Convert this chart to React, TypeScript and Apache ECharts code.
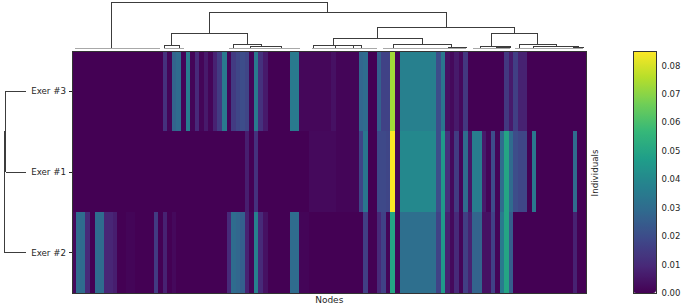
import React, { useEffect, useRef } from "react";
import * as echarts from "echarts";

const individuals = ["Exer #3", "Exer #1", "Exer #2"];

const exer3 = [
  0, 0, 0, 0, 0, 0, 0, 0, 0, 0,
  0, 0, 0, 0, 0, 0, 0, 0, 0, 0,
  0.012, 0.001, 0.027, 0.03, 0.001, 0.036, 0.001, 0.01, 0.001, 0.006,
  0.001, 0.008, 0.015, 0.035, 0.001, 0.015, 0.018, 0.02, 0.018, 0.001,
  0.035, 0.012, 0.006, 0, 0, 0, 0, 0, 0.035, 0.035,
  0.0015, 0.0015, 0.0015, 0.0015, 0.0015, 0.0015, 0.0015, 0.004, 0.001, 0.001,
  0.001, 0.001, 0.001, 0.028, 0.03, 0, 0, 0.026, 0.017, 0.017,
  0.073, 0.001, 0.037, 0.037, 0.037, 0.037, 0.037, 0.037, 0.037, 0.037,
  0.02, 0.034, 0.004, 0.002, 0.006, 0.002, 0.014, 0, 0, 0,
  0, 0, 0, 0, 0, 0.014, 0.006, 0.016, 0.008, 0.008,
  0, 0, 0, 0, 0, 0, 0, 0, 0, 0,
  0, 0, 0,
];

const exer1 = [
  0, 0, 0, 0, 0, 0, 0, 0, 0, 0,
  0, 0, 0, 0, 0, 0, 0, 0, 0, 0,
  0, 0, 0, 0, 0, 0, 0, 0, 0, 0,
  0, 0, 0, 0, 0, 0, 0, 0, 0.007, 0,
  0.012, 0, 0, 0, 0, 0, 0, 0, 0, 0,
  0, 0, 0.002, 0.002, 0.002, 0.002, 0.002, 0.002, 0.001, 0.001,
  0.001, 0.001, 0.001, 0.018, 0.034, 0, 0, 0.019, 0.019, 0.018,
  0.085, 0.001, 0.04, 0.04, 0.04, 0.04, 0.04, 0.04, 0.04, 0.04,
  0.02, 0.046, 0.012, 0.002, 0.015, 0.001, 0.03, 0.005, 0.036, 0.036,
  0.006, 0.001, 0.02, 0.001, 0.03, 0.05, 0.03, 0.02, 0.018, 0.018,
  0, 0.034, 0, 0, 0, 0, 0, 0, 0, 0,
  0.03, 0, 0,
];

const exer2 = [
  0.002, 0.03, 0.03, 0.01, 0, 0.03, 0.03, 0.009, 0.009, 0.007,
  0, 0, 0.001, 0.001, 0, 0, 0, 0, 0.015, 0,
  0.008, 0, 0.002, 0, 0, 0, 0, 0, 0, 0,
  0, 0, 0, 0, 0.01, 0.03, 0.028, 0.026, 0.008, 0.001,
  0.037, 0.01, 0.004, 0, 0, 0, 0, 0, 0.03, 0.03,
  0.001, 0.001, 0, 0, 0, 0, 0, 0, 0, 0,
  0, 0, 0, 0, 0.016, 0, 0, 0.01, 0.017, 0.001,
  0.05, 0.001, 0.031, 0.031, 0.031, 0.031, 0.031, 0.031, 0.031, 0.031,
  0.017, 0.046, 0.008, 0.002, 0.01, 0.001, 0.016, 0.008, 0.027, 0.027,
  0.004, 0.004, 0.017, 0.001, 0.035, 0.05, 0.025, 0, 0, 0,
  0, 0, 0, 0, 0, 0, 0, 0, 0, 0,
  0.008, 0, 0,
];

const rows = [exer3, exer1, exer2];
const nodeLabels = exer3.map((_, i) => String(i));

// [left x, right x, left leg foot, right leg foot, top]
const nodeLinks = [
  [39, 255.5, 1, 37, 46.5],
  [137.3, 374.3, 16, 21.3, 37],
  [99.3, 175.3, 3.3, 5, 16],
  [92.3, 107.3, 1, 1, 3.3],
  [161, 189.7, 1, 2.5, 5],
  [178.7, 209.7, 1, 1, 2.5],
  [305.7, 442.3, 10.3, 16, 21.3],
  [261, 350.7, 4, 4.7, 10.3],
  [241, 289, 1, 1, 4],
  [263, 281, 1, 1, 3.3],
  [321.3, 379.7, 1, 2, 4.7],
  [376, 394, 1, 1, 2],
  [419.3, 465.3, 2.7, 4.7, 16],
  [408, 438, 1, 1, 2.7],
  [424.7, 438, 1, 1, 2],
  [447, 484.7, 1, 3, 4.7],
  [461, 506, 1, 1.5, 3],
  [501, 512, 1, 1, 1.5],
];

// [from x, to x] of the almost flat leaf merges
const nodeLeafRuns = [
  [3, 88], [92, 112], [157, 228], [240, 305],
  [311, 331], [331, 394], [401, 438], [443, 511],
];

// [row a, row b, foot a, foot b, reach]; rows are 0.5, 1.5, 2.5
const individualLinks = [
  [0.5, 1.5, 0, 0, 20.5],
  [1, 2.5, 20.5, 0, 22],
];

const colorTicks = [0, 0.01, 0.02, 0.03, 0.04, 0.05, 0.06, 0.07, 0.08];
const colorMax = 0.0851;
const viridis = [
  "#440154", "#482878", "#3e4989", "#31688e", "#26828e",
  "#1f9e89", "#35b779", "#6ece58", "#b5de2b", "#fde725",
];

const font = "DejaVu Sans";
const ink = "#262626";

function gap(): any[] {
  return ["-", "-"];
}

export default function App() {
  const ref = useRef<HTMLDivElement>(null);
  useEffect(() => {
    document.body.style.margin = "0";
    const chart = echarts.init(ref.current!, undefined, { renderer: "svg" });

    const heat: number[][] = [];
    rows.forEach((r, y) => r.forEach((v, x) => heat.push([x, y, v])));

    const topLines: any[] = [];
    nodeLinks.forEach(([a, b, fa, fb, t]) => {
      topLines.push([a, fa], [a, t], [b, t], [b, fb], gap());
    });
    const topFlat: any[] = [];
    nodeLeafRuns.forEach(([a, b]) => {
      topFlat.push([a, 1], [b, 1], gap());
    });
    const leftLines: any[] = [];
    individualLinks.forEach(([a, b, fa, fb, r]) => {
      leftLines.push([fa, a], [r, a], [r, b], [fb, b], gap());
    });

    const hidden = { show: false };
    chart.setOption({
      animation: false,
      backgroundColor: "#fff",
      textStyle: { fontFamily: font },
      grid: [
        { left: 72, top: 51, width: 514.5, height: 242, outerBoundsMode: "none" },
        { left: 72, top: 0, width: 515, height: 49, outerBoundsMode: "none" },
        { left: 0, top: 51, width: 26, height: 242, outerBoundsMode: "none" },
        { left: 633, top: 51, width: 23, height: 242, outerBoundsMode: "none" },
      ],
      xAxis: [
        {
          gridIndex: 0, type: "category", data: nodeLabels,
          axisLabel: { show: false }, axisTick: { show: false },
          axisLine: { show: false }, splitLine: { show: false },
          name: "Nodes", nameLocation: "middle", nameGap: 2,
          nameTextStyle: { fontSize: 9, color: ink, fontFamily: font },
        },
        { gridIndex: 1, type: "value", min: 0, max: 515, ...hidden },
        { gridIndex: 2, type: "value", min: 0, max: 26, inverse: true, ...hidden },
        { gridIndex: 3, type: "value", min: 0, max: 1, ...hidden },
      ],
      yAxis: [
        {
          gridIndex: 0, type: "category", data: individuals, inverse: true,
          axisLine: { show: false },
          axisTick: { show: true, alignWithLabel: true, length: 3.5, lineStyle: { color: ink } },
          axisLabel: { fontSize: 8.7, color: ink, fontFamily: font, margin: 6 },
          splitLine: { show: false },
        },
        { gridIndex: 1, type: "value", min: 0, max: 49, ...hidden },
        { gridIndex: 2, type: "value", min: 0, max: 3, inverse: true, ...hidden },
        {
          gridIndex: 3, type: "value", position: "right", min: 0, max: colorMax,
          interval: 0.01,
          axisLine: { show: false },
          axisTick: { show: true, length: 3.5, lineStyle: { color: ink } },
          axisLabel: {
            fontSize: 8.5, color: ink, fontFamily: font, margin: 5.5,
            showMaxLabel: false,
            formatter: (v: number) =>
              colorTicks.some((t) => Math.abs(t - v) < 1e-6) ? v.toFixed(2) : "",
          },
          splitLine: { show: false },
        },
      ],
      visualMap: {
        type: "continuous",
        seriesIndex: 0,
        min: 0,
        max: colorMax,
        calculable: false,
        realtime: false,
        hoverLink: false,
        left: 633,
        top: 51,
        padding: 0,
        itemWidth: 23,
        itemHeight: 242,
        text: ["", ""],
        textGap: 0,
        inRange: { color: viridis },
      },
      graphic: [
        {
          type: "rect", silent: true, z: 50,
          shape: { x: 72, y: 51, width: 514.5, height: 242 },
          style: { fill: "none", stroke: "#333", lineWidth: 1 },
        },
        {
          type: "rect", silent: true, z: 50,
          shape: { x: 633, y: 51, width: 23, height: 242 },
          style: { fill: "none", stroke: "#333", lineWidth: 1 },
        },
        {
          type: "text", x: 595, y: 173, rotation: Math.PI / 2, z: 50,
          style: {
            text: "Individuals", fontSize: 8.7, fontFamily: font, fill: ink,
            align: "center", verticalAlign: "middle",
          },
        },
      ],
      series: [
        {
          type: "heatmap", xAxisIndex: 0, yAxisIndex: 0, data: heat,
          itemStyle: { borderWidth: 0 }, emphasis: { disabled: true },
        },
        {
          type: "line", xAxisIndex: 1, yAxisIndex: 1, data: topFlat, symbol: "none",
          connectNulls: false, silent: true,
          lineStyle: { color: "#a8a8a8", width: 1 },
        },
        {
          type: "line", xAxisIndex: 1, yAxisIndex: 1, data: topLines, symbol: "none",
          connectNulls: false, silent: true,
          lineStyle: { color: "#3c3c3c", width: 1 },
        },
        {
          type: "line", xAxisIndex: 2, yAxisIndex: 2, data: leftLines, symbol: "none",
          connectNulls: false, silent: true,
          lineStyle: { color: "#3c3c3c", width: 1 },
        },
      ],
    });
    return () => chart.dispose();
  }, []);
  return (
    <div style={{ position: "absolute", left: 0, top: 0, width: 685, height: 304 }}>
      <style>{`svg path { shape-rendering: crispEdges; }`}</style>
      <div ref={ref} style={{ width: 685, height: 304 }} />
    </div>
  );
}
